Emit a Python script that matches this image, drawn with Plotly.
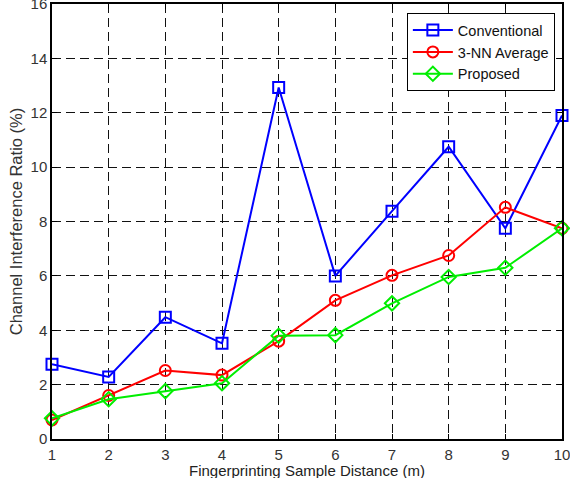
import plotly.graph_objects as go

distance = [1, 2, 3, 4, 5, 6, 7, 8, 9, 10]
conventional = [2.75, 2.28, 4.48, 3.52, 12.93, 6.0, 8.38, 10.75, 7.75, 11.9]
nn3_average = [0.7, 1.6, 2.52, 2.35, 3.6, 5.1, 6.02, 6.75, 8.52, 7.75]
proposed = [0.76, 1.46, 1.76, 2.05, 3.8, 3.82, 4.99, 5.96, 6.3, 7.75]

x_ticks = [1, 2, 3, 4, 5, 6, 7, 8, 9, 10]
y_ticks = [0, 2, 4, 6, 8, 10, 12, 14, 16]

font = "Liberation Sans, Arial, sans-serif"

fig = go.Figure()
series = [
    ("Conventional", conventional, "#0000ff", "square-open"),
    ("3-NN Average", nn3_average, "#ff0000", "circle-open"),
    ("Proposed", proposed, "#00ee00", "diamond-open"),
]
for name, vals, color, sym in series:
    fig.add_trace(go.Scatter(
        x=distance, y=vals, name=name, mode="lines+markers",
        line=dict(color=color, width=2),
        marker=dict(symbol=sym, size=11, color=color, line=dict(width=2, color=color)),
        cliponaxis=False,
    ))

axis_common = dict(
    showline=True, linecolor="black", linewidth=1.5, mirror="ticks",
    ticks="inside", ticklen=5, tickcolor="black", tickwidth=1,
    showgrid=True, gridcolor="#111", griddash="9px,5px", gridwidth=1,
    zeroline=False, tickfont=dict(family=font, size=15, color="#333"),
    ticklabeloverflow="allow", automargin=False,
)

fig.update_layout(
    width=570, height=478,
    margin=dict(l=52, r=8, t=4, b=39),
    paper_bgcolor="white", plot_bgcolor="white",
    font=dict(family=font, size=15, color="#333"),
    xaxis=dict(range=[1, 10], tickvals=x_ticks, ticklabelstandoff=1, **axis_common),
    yaxis=dict(range=[0, 16], tickvals=y_ticks,
               title=dict(text="Channel Interference Ratio (%)", standoff=4,
                          font=dict(family=font, size=16.5, color="#333")),
               **axis_common),
    legend=dict(x=0.986, y=0.979, xanchor="right", yanchor="top",
                bgcolor="white", bordercolor="black", borderwidth=1,
                font=dict(family=font, size=14.5, color="#111"),
                itemwidth=40, tracegroupgap=0),
    showlegend=True,
    annotations=[dict(
        text="Fingerprinting Sample Distance (m)", xref="paper", yref="paper",
        x=0.5, y=0, xanchor="center", yanchor="middle", yshift=-31,
        showarrow=False, font=dict(family=font, size=15, color="#222"),
    )],
)

fig.write_html("out.html")
